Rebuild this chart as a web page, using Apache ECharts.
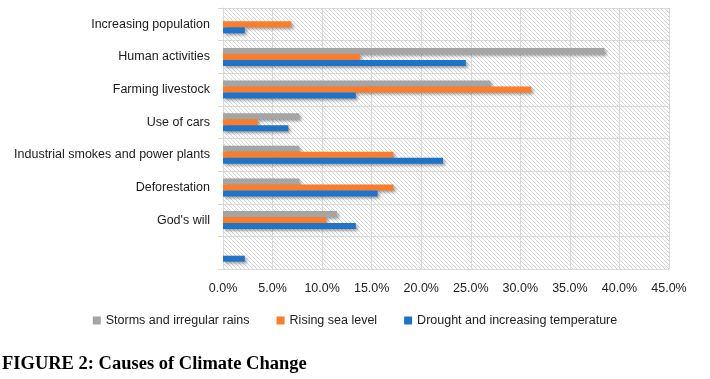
<!DOCTYPE html>
<html>
<head>
<meta charset="utf-8">
<script src="https://cdn.jsdelivr.net/npm/echarts@6/dist/echarts.min.js"></script>
<style>
html,body{margin:0;padding:0;background:#fff;}
#chart{width:710px;height:379px;}
</style>
</head>
<body>
<div id="chart"></div>
<script>
var categories = ["Increasing population", "Human activities", "Farming livestock", "Use of cars", "Industrial smokes and power plants", "Deforestation", "God's will", ""];
var seriesNames = ["Storms and irregular rains", "Rising sea level", "Drought and increasing temperature"];
var storms = [0, 38.5, 27.0, 7.7, 7.7, 7.7, 11.5, 0];
var seaLevel = [6.9, 13.8, 31.1, 3.5, 17.2, 17.2, 10.4, 0];
var drought = [2.2, 24.5, 13.4, 6.6, 22.2, 15.6, 13.4, 2.2];
var xTicks = [0, 5, 10, 15, 20, 25, 30, 35, 40, 45];
var colors = ["#a5a5a5", "#fb7d2b", "#1f74c9"];
var FONT = "'Liberation Sans', Arial, sans-serif";

var pc = document.createElement('canvas');
pc.width = 4; pc.height = 4;
var ctx = pc.getContext('2d');
ctx.fillStyle = '#ffffff';
ctx.fillRect(0, 0, 4, 4);
ctx.fillStyle = '#d6d6d6';
for (var i = 0; i < 4; i++) { ctx.fillRect(i, i, 1, 1); }

var chart = echarts.init(document.getElementById('chart'), null, {renderer: 'canvas'});
var shadow = {shadowColor: 'rgba(0,0,0,0.35)', shadowBlur: 3, shadowOffsetX: 2, shadowOffsetY: 2};
function mk(name, data, color) {
  return {
    name: name, type: 'bar', data: data, barWidth: 6, barGap: '0%',
    itemStyle: Object.assign({color: color}, shadow)
  };
}
chart.setOption({
  animation: false,
  color: colors,
  grid: {left: 223, right: 41, top: 8, bottom: 110, show: true, borderWidth: 0,
         containLabel: false, outerBoundsMode: 'none',
         backgroundColor: {image: pc, repeat: 'repeat'}},
  title: {text: 'FIGURE 2: Causes of Climate Change', left: -3, top: 350,
          textStyle: {fontFamily: 'Liberation Serif', fontWeight: 'bold', fontSize: 18.5, color: '#000'}},
  legend: {data: seriesNames, top: 309, left: 'center', icon: 'rect', itemWidth: 8, itemHeight: 8, itemGap: 27,
           textStyle: {fontFamily: FONT, fontSize: 12.5, color: '#222'}},
  xAxis: {type: 'value', min: xTicks[0], max: xTicks[xTicks.length - 1], interval: 5,
          axisLine: {show: false}, axisTick: {show: false},
          axisLabel: {margin: 13, fontFamily: FONT, fontSize: 12.5, color: '#222',
                      formatter: function (v) { return v.toFixed(1) + '%'; }},
          splitLine: {show: true, lineStyle: {color: '#d9d9d9', width: 1}}},
  yAxis: {type: 'category', data: categories, inverse: true,
          axisLine: {show: true, lineStyle: {color: '#d9d9d9'}},
          axisTick: {show: true, length: 5, lineStyle: {color: '#d9d9d9'}},
          axisLabel: {margin: 13, fontFamily: FONT, fontSize: 12.5, color: '#1a1a1a'},
          splitLine: {show: true, lineStyle: {color: '#d9d9d9', width: 1}}},
  series: [mk(seriesNames[0], storms, colors[0]), mk(seriesNames[1], seaLevel, colors[1]), mk(seriesNames[2], drought, colors[2])]
});
</script>
</body>
</html>
